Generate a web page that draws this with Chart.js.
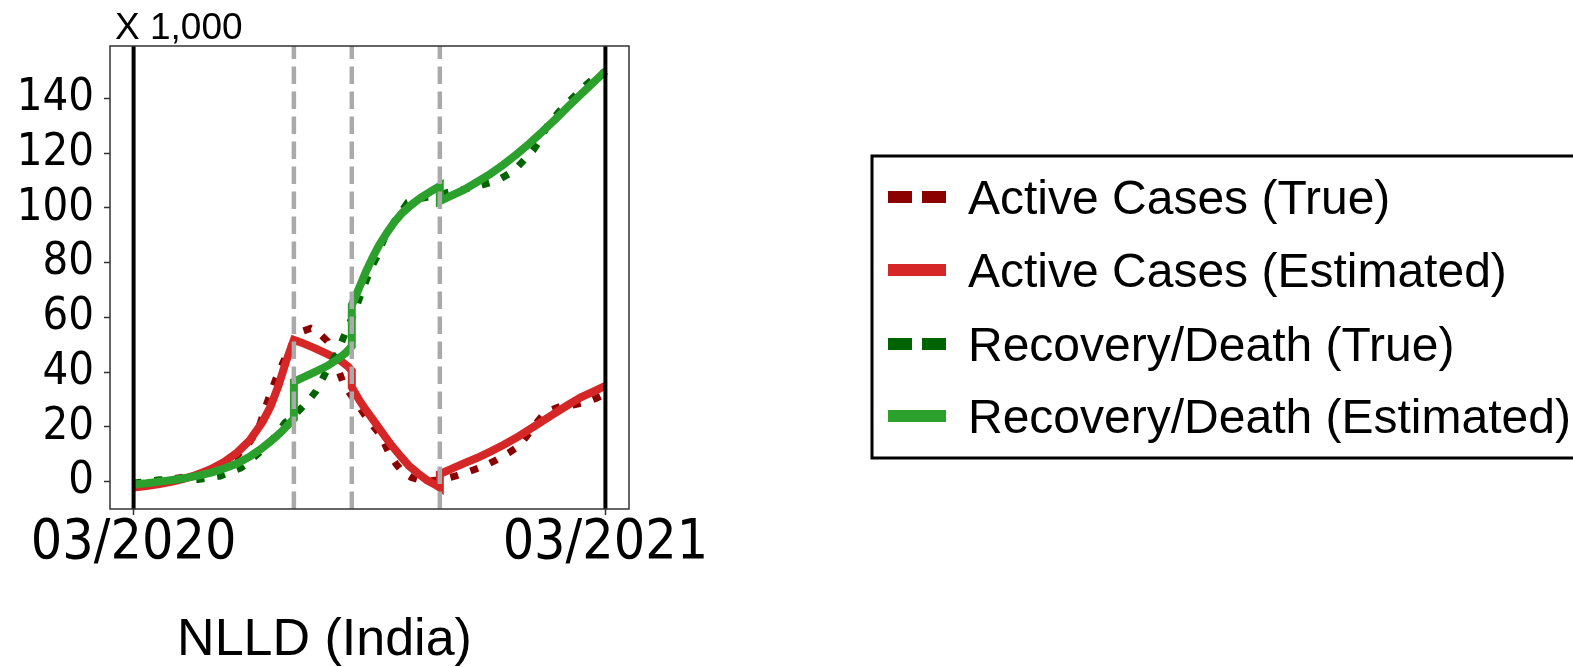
<!DOCTYPE html>
<html>
<head>
<meta charset="utf-8">
<script src="https://cdn.jsdelivr.net/npm/chart.js@4.4.1/dist/chart.umd.min.js"></script>
<style>
  html, body { margin: 0; padding: 0; background: #fff; overflow: hidden; }
  #wrap { position: relative; width: 1573px; height: 667px; }
</style>
</head>
<body>
<div id="wrap"><canvas id="nlld_chart" width="1573" height="667"></canvas></div>
<script>
// days since 03/2020, values in thousands
var activeTrueDays = [0, 10, 20, 30, 40, 50, 60, 70, 80, 90, 97, 103, 110, 117, 124, 131, 137, 143, 150, 156, 162, 167, 171, 175, 180, 185, 191, 197, 203, 208, 215, 221, 228, 235, 242, 250, 260, 270, 280, 290, 298, 304, 310, 316, 322, 330, 340, 350, 358, 365];
var activeTrueVals = [-1, -0.5, 0.3, 1, 1.8, 2.8, 4.2, 6.8, 9.5, 14.5, 20, 28.5, 37.5, 45, 51.5, 55, 56, 54.5, 51.3, 44, 36.3, 32.5, 29.8, 27, 23.5, 20.5, 17, 11, 6.5, 3.6, 1.5, 0.6, 0.2, 0.6, 1.2, 2.2, 3.8, 5.5, 7.8, 10.5, 13, 16.5, 20.5, 24, 26, 27.5, 28, 29, 30.5, 32];

var activeEstDays = [0, 10, 20, 30, 40, 50, 60, 70, 80, 90, 100, 106, 112, 118, 124, 130, 140, 150, 160, 166, 168.8, 168.8, 175, 180, 187, 194, 200, 207, 213, 220, 227, 233, 236.9, 236.9, 245, 255, 266, 276, 286, 296, 306, 316, 326, 336, 346, 356, 365];
var activeEstVals = [-2.2, -1.6, -0.9, 0, 1.2, 2.7, 4.6, 7.2, 10.6, 15.2, 22, 27.5, 35, 44, 51.8, 50.8, 48.8, 46.6, 44.2, 42, 40.5, 34.5, 29.5, 26, 21.5, 16.8, 13, 9, 5.8, 3, 0.5, -1, -2.2, 2.8, 4.5, 6.6, 8.7, 11, 13.4, 16, 19, 22, 25, 28, 30.8, 33, 35];

var recoveryTrueDays = [0, 10, 20, 30, 40, 50, 60, 67, 75, 83, 90, 97, 104, 110, 117, 124, 130, 136, 141, 148, 153, 158, 164, 171, 176, 184, 188, 194, 203, 212, 220, 228, 236, 243, 252, 260, 268, 276, 283, 290, 297, 303, 309, 314, 320, 326, 332, 338, 344, 350, 355, 360, 365];
var recoveryTrueVals = [-0.5, 0, 0.7, 0.8, 0.8, 0.8, 1.5, 2, 3.5, 5, 7.5, 10.5, 13.5, 17, 21.5, 24, 27, 30, 33, 39.3, 43.5, 47.4, 54.7, 62, 68.7, 78.4, 82, 89, 96, 102, 103.3, 104, 104.8, 105.7, 106.5, 107.3, 108.2, 109.3, 110.5, 112.4, 115, 118, 121, 124.5, 130, 133.5, 136.7, 139.5, 142.2, 145, 147, 148.5, 150];

var recoveryEstDays = [0, 10, 20, 30, 40, 50, 60, 70, 80, 90, 100, 108, 115, 124, 124, 130, 140, 150, 158, 164, 168.8, 168.8, 172, 176, 180, 185, 190, 196, 202, 208, 215, 222, 229, 236.9, 236.9, 245, 255, 266, 276, 286, 296, 306, 316, 326, 336, 346, 356, 365];
var recoveryEstVals = [-1, -0.6, 0, 0.6, 1.3, 2.2, 3.3, 4.8, 6.6, 9.2, 12.5, 15.5, 18.5, 23, 36.5, 37.8, 40, 42.3, 44.8, 47, 49.5, 64.5, 68, 72.5, 77, 82, 86.5, 91, 95, 98.3, 101.2, 103.7, 105.8, 108, 102.5, 104.3, 106.5, 109.6, 112.5, 115.8, 119.5, 123.5, 127.8, 132.3, 137, 141.5, 146, 150];

var seriesLabels = ['Active Cases (True)', 'Active Cases (Estimated)', 'Recovery/Death (True)', 'Recovery/Death (Estimated)'];
var phaseBreaks = [124, 168.8, 236.9];
var periodEdges = [0, 365];
var xTickValues = [0, 365];
var xTickLabels = ['03/2020', '03/2021'];
var yTickValues = [0, 20, 40, 60, 80, 100, 120, 140];
var axisTitle = 'NLLD (India)';
var offsetText = 'X 1,000';

function toPoints(days, vals) {
  var pts = [];
  for (var i = 0; i < days.length; i++) {
    pts.push({ x: days[i], y: vals[i] });
  }
  return pts;
}

var tickFont = "'DejaVu Sans Condensed', 'DejaVu Sans', sans-serif";
var textFont = "'Liberation Sans', Arial, sans-serif";

// vertical phase lines + frame, drawn over the curves
var markerLines = {
  id: 'markerLines',
  afterDatasetsDraw: function(chart) {
    var ctx = chart.ctx, area = chart.chartArea, xs = chart.scales.x;
    ctx.save();
    ctx.lineWidth = 4.5;
    ctx.strokeStyle = '#aaaaaa';
    ctx.setLineDash([17.5, 7.5]);
    phaseBreaks.forEach(function(d) {
      var px = xs.getPixelForValue(d);
      ctx.beginPath();
      ctx.moveTo(px, area.bottom);
      ctx.lineTo(px, area.top);
      ctx.stroke();
    });
    ctx.setLineDash([]);
    ctx.lineWidth = 4;
    ctx.strokeStyle = '#000';
    periodEdges.forEach(function(d) {
      var px = xs.getPixelForValue(d);
      ctx.beginPath();
      ctx.moveTo(px, area.bottom);
      ctx.lineTo(px, area.top);
      ctx.stroke();
    });
    ctx.lineWidth = 1.5;
    ctx.strokeStyle = '#333';
    ctx.strokeRect(area.left, area.top, area.right - area.left, area.bottom - area.top);
    ctx.restore();
  }
};

// "X 1,000" offset text and the boxed legend on the right
var sideText = {
  id: 'sideText',
  afterDraw: function(chart) {
    var ctx = chart.ctx, area = chart.chartArea;
    ctx.save();
    ctx.fillStyle = '#000';
    ctx.font = '37px ' + textFont;
    ctx.textAlign = 'left';
    ctx.textBaseline = 'alphabetic';
    ctx.fillText(offsetText, area.left + 5, 39);

    // legend frame
    ctx.lineWidth = 3;
    ctx.strokeStyle = '#000';
    ctx.strokeRect(872, 156, 760, 302);

    var rowY = [197, 270, 344, 416];
    ctx.font = '48px ' + textFont;
    chart.data.datasets.forEach(function(ds, i) {
      var y = rowY[i];
      ctx.beginPath();
      ctx.lineWidth = 12;
      ctx.lineCap = 'butt';
      ctx.strokeStyle = ds.borderColor;
      ctx.setLineDash(ds.borderDash && ds.borderDash.length ? [24, 10] : []);
      ctx.moveTo(888, y);
      ctx.lineTo(946, y);
      ctx.stroke();
      ctx.setLineDash([]);
      ctx.fillStyle = '#000';
      ctx.fillText(ds.label, 968, y + 17);
    });
    ctx.restore();
  }
};

var config = {
  type: 'line',
  data: {
    datasets: [
      {
        label: seriesLabels[0],
        data: toPoints(activeTrueDays, activeTrueVals),
        borderColor: '#8b0000',
        borderWidth: 7,
        borderDash: [8, 13],
        borderCapStyle: 'butt',
        pointRadius: 0,
        tension: 0,
        order: 3
      },
      {
        label: seriesLabels[1],
        data: toPoints(activeEstDays, activeEstVals),
        borderColor: '#d62728',
        borderWidth: 8,
        pointRadius: 0,
        tension: 0,
        order: 2
      },
      {
        label: seriesLabels[2],
        data: toPoints(recoveryTrueDays, recoveryTrueVals),
        borderColor: '#006400',
        borderWidth: 7,
        borderDash: [8, 13],
        borderCapStyle: 'butt',
        pointRadius: 0,
        tension: 0,
        order: 1
      },
      {
        label: seriesLabels[3],
        data: toPoints(recoveryEstDays, recoveryEstVals),
        borderColor: '#2ca02c',
        borderWidth: 8,
        pointRadius: 0,
        tension: 0,
        order: 0
      }
    ]
  },
  options: {
    responsive: false,
    animation: false,
    devicePixelRatio: 1,
    layout: { padding: { left: 0, top: 46, right: 924, bottom: 0 } },
    plugins: {
      legend: { display: false },
      tooltip: { enabled: false },
      title: {
        display: true,
        position: 'bottom',
        fullSize: true,
        text: axisTitle,
        color: '#000',
        font: { family: textFont, size: 52, weight: 'normal', lineHeight: 1 },
        padding: { top: 2, bottom: 0 }
      }
    },
    scales: {
      x: {
        type: 'linear',
        min: -18.25,
        max: 383.25,
        afterBuildTicks: function(scale) {
          scale.ticks = xTickValues.map(function(v) { return { value: v }; });
        },
        afterFit: function(scale) { scale.height = 104; },
        ticks: {
          autoSkip: false,
          maxRotation: 0,
          padding: 1,
          color: '#000',
          font: { family: tickFont, size: 55, lineHeight: 1 },
          callback: function(value) {
            var k = xTickValues.indexOf(value);
            return k >= 0 ? xTickLabels[k] : '';
          }
        },
        grid: { drawOnChartArea: false, drawTicks: true, tickLength: 6, tickColor: '#333', tickWidth: 1.5 },
        border: { display: false }
      },
      y: {
        type: 'linear',
        min: -10,
        max: 159.2,
        afterBuildTicks: function(scale) {
          scale.ticks = yTickValues.map(function(v) { return { value: v }; });
        },
        afterFit: function(scale) { scale.width = 110; },
        ticks: {
          padding: 10,
          color: '#000',
          font: { family: tickFont, size: 45, lineHeight: 1 },
          callback: function(value) { return String(value); }
        },
        grid: { drawOnChartArea: false, drawTicks: true, tickLength: 6, tickColor: '#333', tickWidth: 1.5 },
        border: { display: false }
      },
      // empty spacer on the right so the bottom title centres like the original
      yRight: {
        type: 'linear',
        position: 'right',
        display: true,
        afterFit: function(scale) { scale.width = 20; },
        ticks: { display: false },
        grid: { display: false },
        border: { display: false }
      }
    }
  },
  plugins: [markerLines, sideText]
};

var nlldChart = new Chart(document.getElementById('nlld_chart').getContext('2d'), config);
</script>
</body>
</html>
